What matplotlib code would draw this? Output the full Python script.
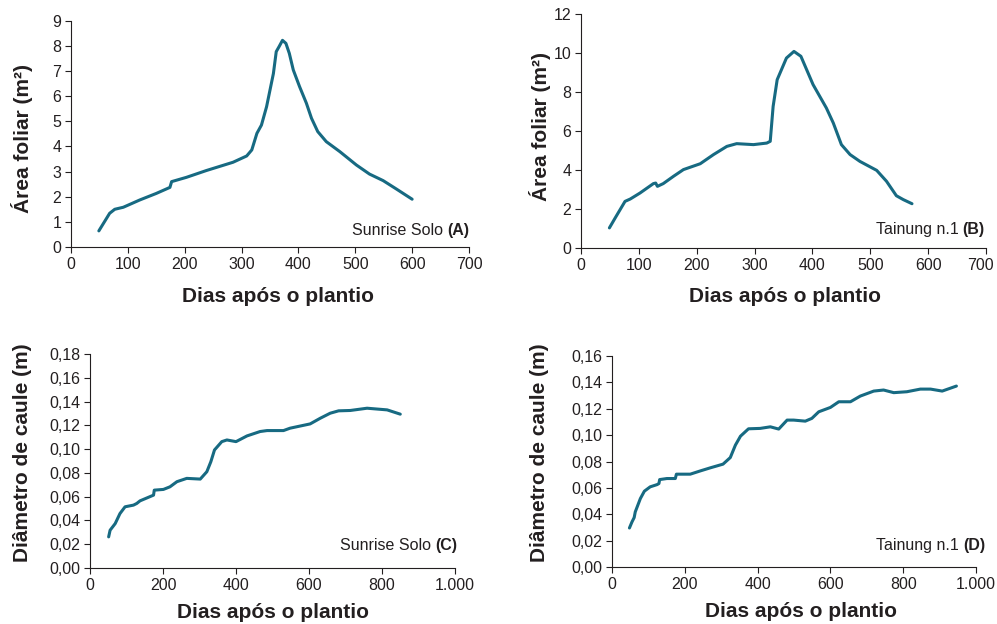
import matplotlib
matplotlib.use('Agg')
import matplotlib.pyplot as plt
import matplotlib.transforms as mtransforms
from matplotlib.ticker import FuncFormatter

plt.rcParams['font.family'] = ['Liberation Sans', 'DejaVu Sans']

line_color = '#176a82'
text_color = '#231f20'

# (A) Sunrise Solo - leaf area
dias_a = [49, 68, 77, 92, 121, 150, 174, 177, 203, 238, 285, 309, 318, 327, 335,
          344, 356, 361, 366, 372, 378, 384, 391, 402, 414, 423, 434, 449, 473,
          502, 525, 549, 572, 600]
area_a = [0.64, 1.34, 1.5, 1.58, 1.87, 2.13, 2.37, 2.6, 2.77, 3.04, 3.37, 3.62,
          3.86, 4.52, 4.85, 5.58, 6.9, 7.77, 7.97, 8.22, 8.1, 7.7, 7.04, 6.38,
          5.72, 5.12, 4.59, 4.19, 3.79, 3.26, 2.9, 2.64, 2.31, 1.9]

# (B) Tainung n.1 - leaf area
dias_b = [49, 59, 76, 85, 102, 125, 129, 132, 142, 160, 177, 206, 229, 252, 269,
          298, 321, 327, 332, 339, 355, 368, 380, 401, 424, 436, 450, 465, 482,
          511, 528, 545, 557, 572]
area_b = [1.03, 1.54, 2.39, 2.51, 2.82, 3.3, 3.33, 3.16, 3.3, 3.68, 4.02, 4.32,
          4.79, 5.21, 5.35, 5.3, 5.38, 5.47, 7.26, 8.63, 9.74, 10.08, 9.83, 8.38,
          7.18, 6.41, 5.3, 4.79, 4.44, 3.98, 3.42, 2.68, 2.48, 2.27]

# (C) Sunrise Solo - stem diameter
dias_c = [51, 55, 69, 82, 96, 119, 128, 137, 174, 176, 201, 219, 238, 265, 302,
          320, 331, 341, 361, 375, 400, 430, 466, 485, 530, 548, 603, 631, 658,
          681, 713, 759, 814, 850]
diam_c = [0.0262, 0.0318, 0.0374, 0.0458, 0.0515, 0.0529, 0.0543, 0.0565, 0.0613,
          0.0655, 0.0661, 0.0683, 0.0726, 0.0754, 0.0748, 0.081, 0.0894, 0.0993,
          0.1063, 0.1077, 0.1063, 0.1111, 0.1148, 0.1156, 0.1156, 0.1176, 0.1212,
          0.126, 0.1302, 0.1322, 0.1325, 0.1344, 0.133, 0.1294]

# (D) Tainung n.1 - stem diameter
dias_d = [48, 55, 61, 64, 78, 89, 105, 124, 129, 131, 151, 174, 177, 215, 243,
          270, 305, 325, 339, 353, 375, 407, 435, 458, 481, 499, 531, 549, 568,
          600, 623, 655, 682, 719, 746, 774, 810, 847, 875, 907, 946]
diam_d = [0.0296, 0.0342, 0.0375, 0.0418, 0.0519, 0.0575, 0.0608, 0.0625, 0.0633,
          0.0663, 0.0671, 0.0671, 0.0704, 0.0704, 0.0729, 0.0752, 0.078, 0.083,
          0.0924, 0.0992, 0.1048, 0.1051, 0.1063, 0.1046, 0.1114, 0.1114, 0.1106,
          0.1127, 0.1177, 0.121, 0.1253, 0.1253, 0.1296, 0.1334, 0.1342, 0.1322,
          0.1329, 0.1349, 0.1349, 0.1334, 0.1372]

panels = [
    dict(rect=[0.0712, 0.6042, 0.3992, 0.3626], x=dias_a, y=area_a,
         xlim=700, xstep=100, ylim=9, ystep=1, ylabel='Área foliar (m²)',
         name='Sunrise Solo', tag='(A)', tagpos=(1.0, 0.075),
         xlab=(0.52, -0.221), ylab=(-0.123, 0.478), comma=False, shift_last=0),
    dict(rect=[0.5828, 0.6026, 0.4062, 0.375], x=dias_b, y=area_b,
         xlim=700, xstep=100, ylim=12, ystep=2, ylabel='Área foliar (m²)',
         name='Tainung n.1', tag='(B)', tagpos=(0.997, 0.077),
         xlab=(0.504, -0.209), ylab=(-0.101, 0.52), comma=False, shift_last=-6),
    dict(rect=[0.0903, 0.0897, 0.3661, 0.343], x=dias_c, y=diam_c,
         xlim=1000, xstep=200, ylim=0.18, ystep=0.02, ylabel='Diâmetro de caule (m)',
         name='Sunrise Solo', tag='(C)', tagpos=(1.005, 0.107),
         xlab=(0.5, -0.21), ylab=(-0.184, 0.537), comma=True, shift_last=0),
    dict(rect=[0.6138, 0.0913, 0.3652, 0.3382], x=dias_d, y=diam_d,
         xlim=1000, xstep=200, ylim=0.16, ystep=0.02, ylabel='Diâmetro de caule (m)',
         name='Tainung n.1', tag='(D)', tagpos=(1.025, 0.104),
         xlab=(0.52, -0.213), ylab=(-0.198, 0.54), comma=True, shift_last=0),
]

fig = plt.figure(figsize=(9.97, 6.24), dpi=100)

for p in panels:
    ax = fig.add_axes(p['rect'])
    ax.plot(p['x'], p['y'], color=line_color, lw=2.2, solid_capstyle='round',
            solid_joinstyle='round')
    ax.set_xlim(0, p['xlim'])
    ax.set_ylim(0, p['ylim'])
    nx = int(round(p['xlim'] / p['xstep']))
    ny = int(round(p['ylim'] / p['ystep']))
    ax.set_xticks([i * p['xstep'] for i in range(nx + 1)])
    ax.set_yticks([i * p['ystep'] for i in range(ny + 1)])
    if p['comma']:
        ax.xaxis.set_major_formatter(FuncFormatter(
            lambda v, pos: f"{int(v):,}".replace(',', '.')))
        ax.yaxis.set_major_formatter(FuncFormatter(
            lambda v, pos: f"{v:.2f}".replace('.', ',')))
    else:
        ax.xaxis.set_major_formatter(FuncFormatter(lambda v, pos: f"{int(v)}"))
        ax.yaxis.set_major_formatter(FuncFormatter(lambda v, pos: f"{int(round(v))}"))

    for side in ['top', 'right']:
        ax.spines[side].set_visible(False)
    for side in ['left', 'bottom']:
        ax.spines[side].set_color(text_color)
        ax.spines[side].set_linewidth(0.8)
    ax.tick_params(colors=text_color, labelsize=11.5, length=4, width=0.8,
                   direction='out', pad=3)

    # last x tick label sits against the figure edge in panel B
    if p['shift_last']:
        lbl = ax.get_xticklabels()[-1]
        lbl.set_transform(lbl.get_transform() + mtransforms.ScaledTranslation(
            p['shift_last'] / 100, 0, fig.dpi_scale_trans))

    ax.set_xlabel('Dias após o plantio', fontsize=15, fontweight='bold',
                  color=text_color, va='center')
    ax.xaxis.set_label_coords(*p['xlab'])
    ax.set_ylabel(p['ylabel'], fontsize=15, fontweight='bold',
                  color=text_color, va='center')
    ax.yaxis.set_label_coords(*p['ylab'])

    tag = ax.text(p['tagpos'][0], p['tagpos'][1], p['tag'], transform=ax.transAxes,
                  ha='right', va='center', fontsize=11.5, fontweight='bold',
                  color=text_color)
    ax.annotate(p['name'] + ' ', xy=(0.03, 0.5), xycoords=tag, ha='right',
                va='center', fontsize=11.5, color=text_color)

fig.savefig('out.png', dpi=100)
